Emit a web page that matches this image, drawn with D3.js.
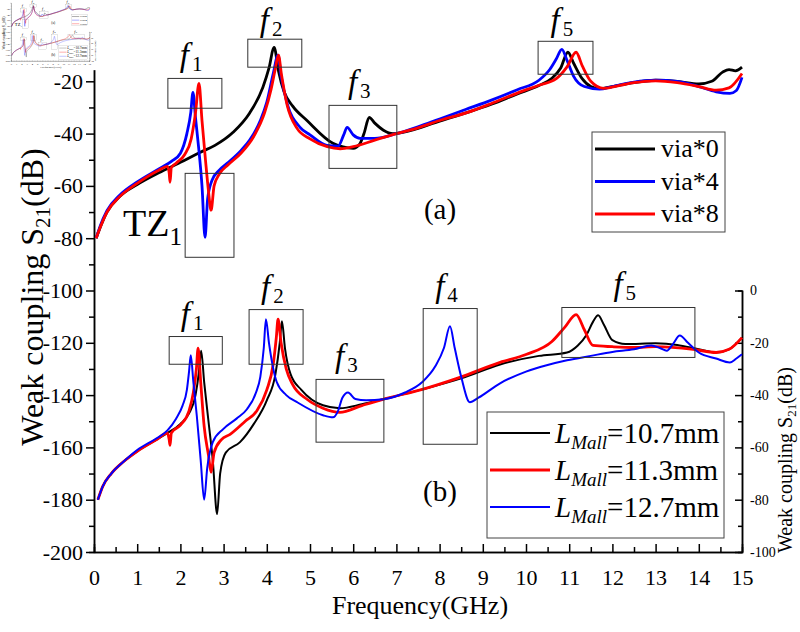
<!DOCTYPE html>
<meta charset="utf-8">
<script src="https://d3js.org/d3.v7.min.js"></script>
<style>
body{margin:0;background:#fff}
svg{display:block}
</style>
<div id="chart"></div>
<script>

// (a) curves, left axis S21 in dB: [frequency GHz, dB]
var via0 = [[0.05,-80],[0.14,-76],[0.3,-70],[0.6,-64],[1.0,-59.5],[1.5,-55],[2.0,-51],[2.45,-47.2],[2.8,-44.5],[3.22,-39.5],[3.6,-32.2],[3.91,-22.3],[4.05,-15],[4.17,-7],[4.27,-16],[4.4,-24],[4.6,-29.5],[4.93,-35],[5.53,-43.7],[6.0,-45.6],[6.15,-44],[6.25,-40],[6.37,-33.8],[6.5,-36],[6.7,-38.7],[6.92,-40],[7.5,-38],[8.0,-35.2],[8.63,-32],[9.2,-28.8],[9.8,-24.8],[10.3,-21.6],[10.6,-18.8],[10.8,-15],[10.97,-8.9],[11.1,-13],[11.3,-19],[11.5,-22],[11.7,-22.8],[12.0,-22],[12.5,-20.5],[13.0,-19.6],[13.5,-20],[14.0,-21],[14.3,-20],[14.55,-16.5],[14.7,-15.5],[14.85,-16],[15,-14.6]]
var via4 = [[0.05,-80],[0.14,-75.5],[0.3,-69.5],[0.6,-63.5],[1.0,-58.5],[1.5,-53.5],[1.8,-50.5],[2.0,-47.5],[2.15,-40],[2.24,-32],[2.29,-24.2],[2.35,-34],[2.42,-45],[2.5,-60],[2.57,-79.7],[2.63,-65],[2.73,-57.9],[2.9,-54],[3.08,-51.4],[3.4,-46.5],[3.6,-42.6],[3.85,-35],[4.0,-28],[4.15,-17],[4.26,-10],[4.33,-18],[4.47,-28.4],[4.77,-37.6],[5.0,-40.5],[5.39,-44.5],[5.65,-44.8],[5.78,-40.5],[5.86,-37.6],[6.0,-40.5],[6.16,-41.8],[6.5,-41.8],[7.0,-40],[7.5,-37.4],[8.0,-34.4],[8.6,-30.8],[9.2,-27.2],[9.8,-23.2],[10.3,-19.6],[10.55,-15.5],[10.7,-11.5],[10.83,-7.8],[10.95,-12],[11.1,-18],[11.35,-22],[11.7,-23],[12.0,-22],[12.5,-20.3],[13.0,-19.6],[13.5,-20],[14.0,-22],[14.4,-24],[14.72,-24.6],[14.87,-23.5],[15,-18.5]]
var via8 = [[0.05,-80],[0.14,-76],[0.3,-70],[0.6,-64],[1.0,-59],[1.5,-54],[1.7,-52.5],[1.74,-55],[1.76,-58.6],[1.79,-53],[1.9,-51.3],[2.1,-48],[2.25,-42],[2.35,-32],[2.43,-20.8],[2.5,-35],[2.58,-50],[2.65,-62],[2.71,-69.3],[2.78,-60],[2.9,-55.5],[3.1,-52],[3.4,-47.5],[3.7,-41],[3.95,-32],[4.1,-23],[4.2,-15],[4.27,-10],[4.34,-17.5],[4.47,-29],[4.7,-38],[5.0,-42],[5.4,-45],[5.7,-45.8],[6.0,-45],[6.5,-42.5],[7.0,-40],[7.5,-37.8],[8.0,-35],[8.63,-32],[9.2,-28.5],[9.8,-24.5],[10.3,-21.5],[10.7,-19],[10.95,-14.5],[11.16,-8.9],[11.3,-14],[11.5,-20],[11.8,-22.7],[12.2,-21.5],[12.5,-20.5],[13.0,-19.8],[13.5,-20.5],[14.0,-22],[14.4,-23.4],[14.7,-22.5],[15,-17]]

// (b) curves, right axis S21 in dB: [frequency GHz, dB]
var mall107 = [[0.09,-80],[0.2,-75],[0.4,-70],[0.68,-65.5],[1.0,-61.5],[1.45,-57],[1.7,-54.5],[2.0,-51],[2.2,-47],[2.35,-40],[2.43,-31],[2.48,-23],[2.55,-35],[2.65,-50],[2.75,-65],[2.85,-85.5],[2.92,-70],[3.05,-62],[3.38,-58],[3.7,-51],[4.0,-42],[4.2,-32],[4.3,-20],[4.35,-11.8],[4.42,-22],[4.55,-32],[4.8,-38],[5.3,-43.9],[5.69,-45],[6.2,-43.5],[6.69,-41.6],[7.6,-37.8],[8.5,-33.6],[9.4,-28.3],[10.3,-25],[10.95,-23.7],[11.2,-21],[11.4,-17],[11.55,-12],[11.67,-9.5],[11.8,-13],[12.0,-19],[12.3,-20.5],[13.0,-20.2],[13.5,-20.8],[14.0,-22.5],[14.4,-23.7],[14.7,-22.5],[15,-18]]
var mall113 = [[0.09,-80],[0.2,-75],[0.4,-70],[0.68,-65.5],[1.0,-61.5],[1.45,-57],[1.7,-54.5],[1.74,-57],[1.76,-59.2],[1.79,-54.5],[2.0,-51.5],[2.2,-46],[2.3,-39],[2.37,-30],[2.41,-22],[2.47,-35],[2.55,-52],[2.65,-63],[2.71,-69.5],[2.78,-62],[2.95,-57],[3.15,-55],[3.5,-50],[3.77,-46],[4.0,-38],[4.15,-28],[4.22,-18],[4.26,-11],[4.33,-20],[4.45,-30],[4.6,-36],[4.93,-41.6],[5.3,-45],[5.69,-46.6],[6.2,-44],[6.69,-41.6],[7.6,-37.8],[8.47,-33.2],[9.4,-27.5],[10.0,-24.5],[10.6,-19.5],[10.9,-14],[11.16,-9.2],[11.35,-15],[11.55,-21],[12.0,-21.5],[12.5,-21.8],[13.0,-21.5],[13.87,-22.5],[14.4,-23.7],[14.7,-22.5],[15,-18]]
var mall127 = [[0.09,-80],[0.2,-75],[0.4,-70],[0.68,-65.5],[1.0,-61],[1.45,-56.5],[1.7,-53.5],[1.9,-49],[2.05,-44],[2.15,-38],[2.2,-31],[2.24,-24.8],[2.3,-35],[2.38,-48],[2.47,-65],[2.55,-80],[2.62,-68],[2.75,-58],[2.99,-53],[3.3,-49],[3.54,-45.4],[3.75,-39],[3.85,-33],[3.93,-22],[3.98,-11],[4.05,-20],[4.23,-35],[4.45,-40],[4.7,-42.7],[5.3,-47.7],[5.53,-48.5],[5.65,-46],[5.75,-41],[5.88,-39],[6.05,-41.5],[6.3,-42],[6.7,-41.6],[7.2,-39],[7.6,-35],[7.9,-29],[8.1,-22],[8.24,-13.7],[8.35,-22],[8.5,-33],[8.7,-42.7],[8.9,-41],[9.4,-35.5],[10.0,-31],[10.5,-28.5],[10.95,-26.7],[11.5,-25],[12.0,-23.5],[12.5,-22.5],[12.9,-21],[13.1,-22],[13.26,-23],[13.4,-20.5],[13.56,-17.2],[13.75,-20],[14.0,-23.7],[14.4,-26],[14.72,-27.5],[14.87,-26],[15,-24.4]]

var seriesA = ["via*0","via*4","via*8"]
var seriesB = ["10.7mm","11.3mm","12.7mm"]

// annotation boxes: [f from, f to, dB top, dB bottom]
var boxNamesA = ["1","2","3","5"]
var boxesA = [[1.71,2.96,-18.9,-30.3],[3.56,4.81,-3.9,-14.6],[5.44,7.01,-29.2,-53.3],[10.28,11.55,-4.7,-17.3]]
var tzBox = [2.11,3.24,-55.2,-87.3]
var boxNamesB = ["1","2","3","4","5"]
var boxesB = [[1.74,2.97,-17.6,-28.2],[3.59,4.84,-7.3,-28.2],[5.14,6.71,-34,-58],[7.62,8.87,-6.9,-58.8],[10.83,13.91,-6.5,-25.6]]

var xTicks = d3.range(0,16,1)
var yTicksLeft = d3.range(-200,1,20)
var yTicksRight = d3.range(-100,1,20)

var colors = {"via*0":"#000","via*4":"#0000ff","via*8":"#ff0000",
	"10.7mm":"#000","11.3mm":"#ff0000","12.7mm":"#0000ff"}

var serif = "Liberation Serif"
var width = 800, height = 632
var svg = d3.select("#chart").append("svg").attr("width",width).attr("height",height)
var g = svg.append("g").attr("id","main").attr("font-family",serif)
g.append("rect").attr("width",width).attr("height",height).attr("fill","#fff")

var x = d3.scaleLinear().domain([0,15]).range([94,742])
var y = d3.scaleLinear().domain([-200,0]).range([552,29])
var yR = d3.scaleLinear().domain([-100,0]).range([y(-200),y(-100)])

// axes
var left = g.append("g").attr("transform","translate("+x(0)+",0)")
left.call(d3.axisLeft(y).tickValues(yTicksLeft).tickSizeInner(8).tickSizeOuter(0).tickPadding(3).tickFormat(function(d){return d==0?"":String(d)}))
left.append("g").call(d3.axisLeft(y).tickValues(d3.range(-190,0,20)).tickSize(5).tickFormat(""))

var bottom = g.append("g").attr("transform","translate(0,"+y(-200)+")")
bottom.call(d3.axisBottom(x).tickValues(xTicks).tickSizeInner(-8).tickSizeOuter(0).tickPadding(17).tickFormat(function(d){return String(d)}))
bottom.append("g").call(d3.axisBottom(x).tickValues(d3.range(0.5,15,1)).tickSize(-5).tickFormat(""))

var right = g.append("g").attr("transform","translate("+x(15)+",0)")
right.call(d3.axisRight(yR).tickValues(yTicksRight).tickSizeInner(-7).tickSizeOuter(0).tickPadding(8).tickFormat(function(d){return String(d)}))
right.append("g").call(d3.axisRight(yR).tickValues(d3.range(-90,0,20)).tickSize(-4).tickFormat(""))

g.selectAll("g").attr("font-family",serif)
g.selectAll(".tick text").attr("fill","#000")
left.selectAll("text").attr("font-size",22)
bottom.selectAll("text").attr("font-size",22)
right.selectAll("text").attr("font-size",14)
g.selectAll(".domain").attr("stroke","#000").attr("stroke-width",1.5)
g.selectAll(".tick line").attr("stroke","#000").attr("stroke-width",1.5)

// axis titles
var yl = g.append("text").attr("transform","translate(43,297) rotate(-90)").attr("text-anchor","middle").attr("font-size",32)
yl.append("tspan").text("Weak coupling S")
yl.append("tspan").attr("dy",7).attr("font-size",21).text("21")
yl.append("tspan").attr("dy",-7).text("(dB)")

var yr = g.append("text").attr("transform","translate(792,460) rotate(-90)").attr("text-anchor","middle").attr("font-size",20)
yr.append("tspan").text("Weak coupling S")
yr.append("tspan").attr("dy",4).attr("font-size",13).text("21")
yr.append("tspan").attr("dy",-4).text("(dB)")

g.append("text").attr("x",420).attr("y",614).attr("text-anchor","middle").attr("font-size",26).text("Frequency(GHz)")

// curves
var lineA = d3.line().x(function(d){return x(d[0])}).y(function(d){return y(d[1])}).curve(d3.curveMonotoneX)
var lineB = d3.line().x(function(d){return x(d[0])}).y(function(d){return yR(d[1])}).curve(d3.curveMonotoneX)

var dataA = [via0,via4,via8]
dataA.forEach(function(d,i){
	g.append("path").attr("d",lineA(d)).attr("fill","none")
		.attr("stroke",colors[seriesA[i]]).attr("stroke-width",2.8).attr("stroke-linejoin","round")
})
var dataB = [mall107,mall113,mall127]
var widthB = [2,2.8,2]
dataB.forEach(function(d,i){
	g.append("path").attr("d",lineB(d)).attr("fill","none")
		.attr("stroke",colors[seriesB[i]]).attr("stroke-width",widthB[i]).attr("stroke-linejoin","round")
})

// annotation boxes and f labels
function drawBox(b,scale){
	g.append("rect").attr("x",x(b[0])).attr("y",scale(b[2]))
		.attr("width",x(b[1])-x(b[0])).attr("height",scale(b[3])-scale(b[2]))
		.attr("fill","none").attr("stroke","#333").attr("stroke-width",1)
}
function fLabel(b,scale,n){
	var cx = (x(b[0])+x(b[1]))/2
	var t = g.append("text").attr("x",cx-15).attr("y",Math.max(scale(b[2])-12,31)).attr("font-size",33)
	t.append("tspan").attr("font-style","italic").text("f")
	t.append("tspan").attr("dx",3).attr("dy",5).attr("font-size",21).text(n)
}
boxesA.forEach(function(b,i){ drawBox(b,y); fLabel(b,y,boxNamesA[i]) })
drawBox(tzBox,y)
boxesB.forEach(function(b,i){ drawBox(b,yR); fLabel(b,yR,boxNamesB[i]) })

var tz = g.append("text").attr("x",123).attr("y",236).attr("font-size",38)
tz.append("tspan").text("TZ")
tz.append("tspan").attr("dy",9).attr("font-size",25).text("1")

g.append("text").attr("x",440).attr("y",219).attr("text-anchor","middle").attr("font-size",29).text("(a)")
g.append("text").attr("x",440).attr("y",501).attr("text-anchor","middle").attr("font-size",29).text("(b)")

// legend (a)
var legA = g.append("g")
legA.append("rect").attr("x",592).attr("y",132).attr("width",133).attr("height",100).attr("fill","#fff").attr("stroke","#444").attr("stroke-width",1)
seriesA.forEach(function(s,i){
	var ly = 149+i*32.5
	legA.append("line").attr("x1",595).attr("x2",655).attr("y1",ly).attr("y2",ly).attr("stroke",colors[s]).attr("stroke-width",2.8)
	legA.append("text").attr("x",661).attr("y",ly+8).attr("font-size",26).text(s)
})

// legend (b)
var legB = g.append("g")
legB.append("rect").attr("x",487).attr("y",412).attr("width",237).attr("height",126).attr("fill","#fff").attr("stroke","#444").attr("stroke-width",1)
seriesB.forEach(function(s,i){
	var ly = 433+i*37
	legB.append("line").attr("x1",490).attr("x2",550).attr("y1",ly).attr("y2",ly).attr("stroke",colors[s]).attr("stroke-width",widthB[i])
	var t = legB.append("text").attr("x",555).attr("y",ly+10).attr("font-size",29)
	t.append("tspan").attr("font-style","italic").text("L")
	t.append("tspan").attr("dy",6).attr("font-size",19).attr("font-style","italic").text("Mall")
	t.append("tspan").attr("dy",-6).text("="+s)
})

// small preview of the figure in the corner
var thumb = svg.append("g")
thumb.append("rect").attr("width",97).attr("height",70).attr("fill","#fff")
thumb.append("use").attr("href","#main").attr("transform","scale(0.121,0.111)")

</script>
